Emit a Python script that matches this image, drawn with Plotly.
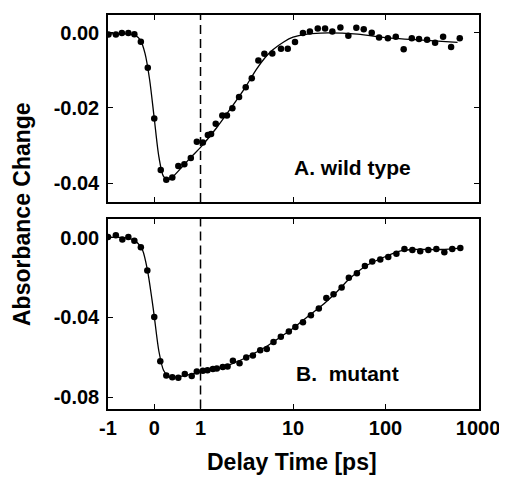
import math
import plotly.graph_objects as go

# ---------------- data ----------------
# Panel A: wild type
times_a = [-0.99, -0.83, -0.70, -0.56, -0.43, -0.29, -0.14, 0.00, 0.14, 0.26,
           0.39, 0.52, 0.65, 0.79, 0.92, 1.06, 1.20, 1.30, 1.46, 1.72,
           1.93, 2.21, 2.61, 3.08, 3.58, 4.22, 4.90, 5.97, 7.41, 8.77,
           10.5, 12.8, 15.2, 18.5, 22.2, 26.6, 32.5, 39.6, 48.3, 58.1,
           70.9, 85.1, 106, 129, 157, 192, 230, 281, 343, 419, 511, 634]
values_a = [-0.0005, -0.0005, -0.0001, -0.0001, -0.0004, -0.0024, -0.0093, -0.0228, -0.0365, -0.0391,
            -0.0385, -0.0354, -0.0350, -0.0333, -0.0290, -0.0292, -0.0272, -0.0269, -0.0242, -0.0220,
            -0.0220, -0.0201, -0.0171, -0.0145, -0.0121, -0.0074, -0.0056, -0.0055, -0.0043, -0.0043,
            -0.0025, -0.0001, 0.0003, 0.0011, 0.0011, 0.0003, 0.0014, -0.0008, 0.0013, 0.0009,
            0.0000, -0.0013, -0.0015, -0.0011, -0.0044, -0.0015, -0.0017, -0.0019, -0.0027, -0.0011,
            -0.0038, -0.0015]
fit_times_a = [-1.0, -0.6, -0.4, -0.3, -0.2, -0.1, 0.0, 0.1, 0.2, 0.3, 0.4, 0.6, 0.8, 1.0,
               1.5, 2, 3, 4, 5, 6, 8, 10, 13, 20, 50, 100, 250, 600]
fit_values_a = [-0.0003, -0.0003, -0.0008, -0.0020, -0.0055, -0.0125, -0.0228, -0.0330, -0.0382, -0.0391,
                -0.0383, -0.0357, -0.0330, -0.0305, -0.0252, -0.0210, -0.0148, -0.0098, -0.0066, -0.0046,
                -0.0024, -0.0012, -0.0005, -0.0001, -0.0004, -0.0013, -0.0020, -0.0026]

# Panel B: mutant
times_b = [-1.00, -0.83, -0.69, -0.56, -0.43, -0.29, -0.15, 0.00, 0.13, 0.26,
           0.39, 0.52, 0.66, 0.81, 0.92, 1.06, 1.19, 1.36, 1.50, 1.74,
           1.96, 2.24, 2.64, 3.12, 3.68, 4.42, 5.21, 6.15, 7.38, 9.01,
           10.6, 12.8, 15.6, 19.0, 22.9, 27.4, 33.5, 40.1, 49.0, 59.8,
           71.8, 87.7, 107, 131, 160, 195, 237, 290, 354, 432, 526, 643]
values_b = [0.0003, 0.0011, -0.0010, 0.0003, -0.0016, -0.0048, -0.0165, -0.0398, -0.0620, -0.0692,
            -0.0700, -0.0703, -0.0684, -0.0694, -0.0671, -0.0668, -0.0665, -0.0659, -0.0656, -0.0649,
            -0.0647, -0.0617, -0.0630, -0.0601, -0.0591, -0.0565, -0.0559, -0.0523, -0.0497, -0.0471,
            -0.0449, -0.0425, -0.0389, -0.0356, -0.0303, -0.0284, -0.0251, -0.0202, -0.0179, -0.0142,
            -0.0120, -0.0110, -0.0097, -0.0081, -0.0058, -0.0062, -0.0069, -0.0063, -0.0057, -0.0074,
            -0.0058, -0.0052]
fit_times_b = [-1.0, -0.6, -0.45, -0.35, -0.25, -0.15, -0.05, 0.0, 0.1, 0.2, 0.3, 0.4, 0.6, 0.8, 1.0,
               1.5, 2, 3, 4, 5, 7, 10, 15, 20, 30, 40, 60, 100, 150, 200, 400, 650]
fit_values_b = [0.0002, -0.0002, -0.0012, -0.0030, -0.0065, -0.0160, -0.0310, -0.0395, -0.0570, -0.0665,
                -0.0695, -0.0700, -0.0695, -0.0685, -0.0672, -0.0657, -0.0640, -0.0605, -0.0575, -0.0550,
                -0.0505, -0.0455, -0.0390, -0.0345, -0.0270, -0.0210, -0.0145, -0.0095, -0.0066, -0.0060,
                -0.0060, -0.0053]

x_tick_times = [-1, 0, 1, 10, 100, 1000]
x_tick_labels = ["-1", "0", "1", "10", "100", "1000"]
y_ticks_a = [0.0, -0.02, -0.04]
y_labels_a = ["0.00", "-0.02", "-0.04"]
y_ticks_b = [0.0, -0.04, -0.08]
y_labels_b = ["0.00", "-0.04", "-0.08"]
y_minor_b = [0.0, -0.02, -0.04, -0.06, -0.08]
split_time = 1.0  # linear below, logarithmic above; dashed marker line


# axis scale: linear between -1 and 1 ps (one decade wide), log10 above 1 ps
def scale(t):
    return (t - 1.0) / 2.0 if t <= 1.0 else math.log10(t)


def scaled(ts):
    return [scale(t) for t in ts]


FONT = "Liberation Sans, Arial, Helvetica, sans-serif"
W, H = 507, 485
OFF = 8  # page body margin offset in the browser


def px_x(p):
    return (p - OFF) / W


def px_y(p):
    return 1 - (p - OFF) / H


fig = go.Figure()

fig.add_trace(go.Scatter(x=scaled(fit_times_a), y=fit_values_a, mode="lines",
                         line=dict(color="black", width=1.3, shape="spline", smoothing=0.8),
                         xaxis="x", yaxis="y", hoverinfo="skip", showlegend=False))
fig.add_trace(go.Scatter(x=scaled(times_a), y=values_a, mode="markers",
                         marker=dict(color="black", size=6.5),
                         xaxis="x", yaxis="y", showlegend=False))
fig.add_trace(go.Scatter(x=scaled(fit_times_b), y=fit_values_b, mode="lines",
                         line=dict(color="black", width=1.3, shape="spline", smoothing=0.8),
                         xaxis="x2", yaxis="y2", hoverinfo="skip", showlegend=False))
fig.add_trace(go.Scatter(x=scaled(times_b), y=values_b, mode="markers",
                         marker=dict(color="black", size=6.5),
                         xaxis="x2", yaxis="y2", showlegend=False))

xdom = [px_x(108), px_x(479)]
xrange_ = [-1.0, 3.01]
tickfont = dict(family=FONT, size=20, color="black", weight="bold")

common_x = dict(range=xrange_, domain=xdom, tickmode="array",
                tickvals=scaled(x_tick_times), ticktext=x_tick_labels,
                ticks="inside", ticklen=5, tickwidth=1, tickcolor="black",
                showline=True, linecolor="black", linewidth=1.5, mirror="ticks",
                showgrid=False, zeroline=False, tickfont=tickfont, automargin=False,
                ticklabeloverflow="allow")
common_y = dict(ticks="inside", ticklen=5, tickwidth=1, tickcolor="black",
                showline=True, linecolor="black", linewidth=1.5,
                showgrid=False, zeroline=False, tickfont=tickfont, automargin=False,
                ticklabelstandoff=3)

fig.update_layout(
    width=W, height=H,
    margin=dict(l=0, r=0, t=0, b=0),
    paper_bgcolor="white", plot_bgcolor="white",
    xaxis=dict(common_x, anchor="y", showticklabels=False),
    yaxis=dict(common_y, domain=[px_y(202), px_y(15)], range=[-0.0450, 0.0047],
               tickmode="array", tickvals=y_ticks_a, ticktext=y_labels_a,
               anchor="x", mirror="ticks"),
    xaxis2=dict(common_x, anchor="y2", showticklabels=True, ticklabelstandoff=1),
    yaxis2=dict(common_y, domain=[px_y(408.5), px_y(219)], range=[-0.0857, 0.0093],
                tickmode="array", tickvals=y_ticks_b, ticktext=y_labels_b,
                anchor="x2", mirror=True),
    yaxis3=dict(overlaying="y2", side="right", anchor="x2", range=[-0.0857, 0.0093],
                tickmode="array", tickvals=y_minor_b, showticklabels=False,
                ticks="inside", ticklen=5, tickwidth=1, tickcolor="black",
                showline=False, showgrid=False, zeroline=False, automargin=False),
)

# dashed reference line at the linear/log split
for xref, yref in [("x", "y domain"), ("x2", "y2 domain")]:
    fig.add_shape(type="line", xref=xref, yref=yref,
                  x0=scale(split_time), x1=scale(split_time), y0=0, y1=1,
                  line=dict(color="black", width=1.5, dash="9px,5px"))

ann_font = dict(family=FONT, size=21, color="black", weight="bold")
title_font = dict(family=FONT, size=23, color="black", weight="bold")
fig.add_annotation(text="A. wild type", xref="paper", yref="paper",
                   x=px_x(292), y=px_y(168), xanchor="left", yanchor="middle",
                   showarrow=False, font=ann_font)
fig.add_annotation(text="B.\u00a0 mutant", xref="paper", yref="paper",
                   x=px_x(294), y=px_y(373), xanchor="left", yanchor="middle",
                   showarrow=False, font=ann_font)
fig.add_annotation(text="Absorbance Change", xref="paper", yref="paper",
                   x=px_x(22), y=px_y(214), xanchor="center", yanchor="middle",
                   textangle=-90, showarrow=False, font=title_font)
fig.add_annotation(text="Delay Time [ps]", xref="paper", yref="paper",
                   x=px_x(292), y=px_y(462), xanchor="center", yanchor="middle",
                   showarrow=False, font=title_font)

fig.write_html("out.html")
